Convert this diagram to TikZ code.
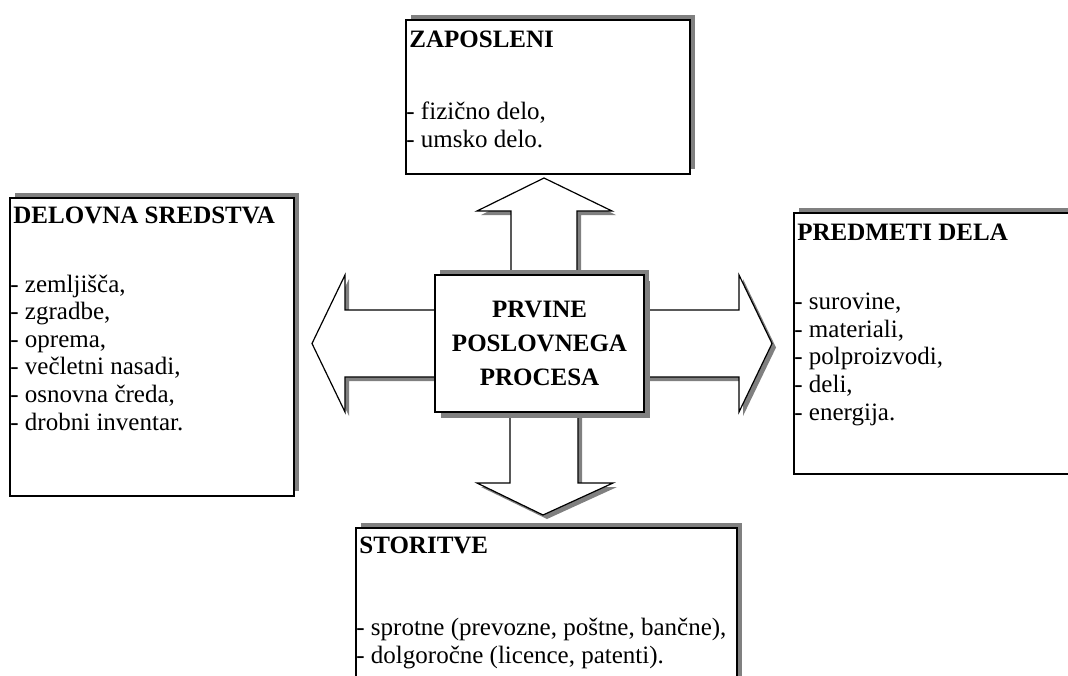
\documentclass[tikz,border=0pt]{standalone}
\usepackage{fontspec}
\setmainfont{Liberation Serif}
\usepackage{tikz}
\usetikzlibrary{positioning, calc, shadows}
\definecolor{ppShadow}{RGB}{128,128,128}
\tikzset{
    ppBox/.style={
        rectangle,
        draw=black,
        line width=0.8pt,
        fill=white,
        anchor=north west,
        inner sep=0pt,
        drop shadow={shadow xshift=2.5pt, shadow yshift=2.5pt, fill=ppShadow, opacity=1}
    },
    ppCore/.style={
        ppBox,
        anchor=center,
        minimum width=104.5pt,
        minimum height=68.5pt,
        align=center,
        font=\fontsize{12.5}{17}\selectfont\bfseries,
        drop shadow={shadow xshift=3pt, shadow yshift=-3pt, fill=ppShadow, opacity=1}
    },
    % Texts (base of a list = baseline of its last line)
    ppTitle/.style={anchor=base west, inner sep=0pt, font=\fontsize{12.5}{13.8}\selectfont\bfseries},
    ppList/.style={anchor=base west, inner sep=0pt, align=left, font=\fontsize{12.5}{13.8}\selectfont},
    % Block arrows
    ppArrow/.style={
        draw=black,
        fill=white,
        line width=0.6pt,
        line join=miter,
        drop shadow={shadow xshift=2pt, shadow yshift=-2pt, fill=ppShadow, opacity=1}
    }
}

\begin{document}
\begin{tikzpicture}[x=0.5pt, y=-0.5pt]
    \useasboundingbox (0,0) rectangle (1068,675);
    \clip (0,0) rectangle (1068,675);

    % block arrows round the core
    \filldraw[ppArrow] (544,178) -- (612,211) -- (577,211) -- (577,300) -- (511,300) -- (511,211) -- (477,211) -- cycle;
    \filldraw[ppArrow] (543,515) -- (613,483) -- (578,483) -- (578,390) -- (510,390) -- (510,483) -- (477,483) -- cycle;
    \filldraw[ppArrow] (312,343.5) -- (345,275) -- (345,310) -- (470,310) -- (470,377) -- (345,377) -- (345,412) -- cycle;
    \filldraw[ppArrow] (772,343.5) -- (739,275) -- (739,310) -- (610,310) -- (610,377) -- (739,377) -- (739,412) -- cycle;

    \node[ppCore] (core) at (539.5,343.5) {PRVINE\\POSLOVNEGA\\PROCESA};

    % ZAPOSLENI
    \node[ppBox, minimum width=142pt, minimum height=77pt] (zaposleni) at (405,19) {};
    \node[ppTitle] (zaposleniT) at ([xshift=2pt, yshift=-14pt]zaposleni.north west) {ZAPOSLENI};
    \node[ppList] (zaposleniL) at ([xshift=0.5pt, yshift=-64pt]zaposleni.north west) {- fizično delo,\\- umsko delo.};

    % DELOVNA SREDSTVA
    \node[ppBox, minimum width=142pt, minimum height=149pt] (sredstva) at (9,197) {};
    \node[ppTitle] (sredstvaT) at ([xshift=2pt, yshift=-13pt]sredstva.north west) {DELOVNA SREDSTVA};
    \node[ppList] (sredstvaL) at ([xshift=0.5pt, yshift=-116.5pt]sredstva.north west) {- zemljišča,\\- zgradbe,\\- oprema,\\- večletni nasadi,\\- osnovna čreda,\\- drobni inventar.};

    % PREDMETI DELA
    \node[ppBox, minimum width=145pt, minimum height=130.5pt] (predmeti) at (793,212) {};
    \node[ppTitle] (predmetiT) at ([xshift=2pt, yshift=-14pt]predmeti.north west) {PREDMETI DELA};
    \node[ppList] (predmetiL) at ([xshift=0.5pt, yshift=-104pt]predmeti.north west) {- surovine,\\- materiali,\\- polproizvodi,\\- deli,\\- energija.};

    % STORITVE
    \node[ppBox, minimum width=190.5pt, minimum height=85pt] (storitve) at (355,527) {};
    \node[ppTitle] (storitveT) at ([xshift=2pt, yshift=-13pt]storitve.north west) {STORITVE};
    \node[ppList] (storitveL) at ([xshift=0.5pt, yshift=-68pt]storitve.north west) {- sprotne (prevozne, poštne, bančne),\\- dolgoročne (licence, patenti).};
\end{tikzpicture}
\end{document}
